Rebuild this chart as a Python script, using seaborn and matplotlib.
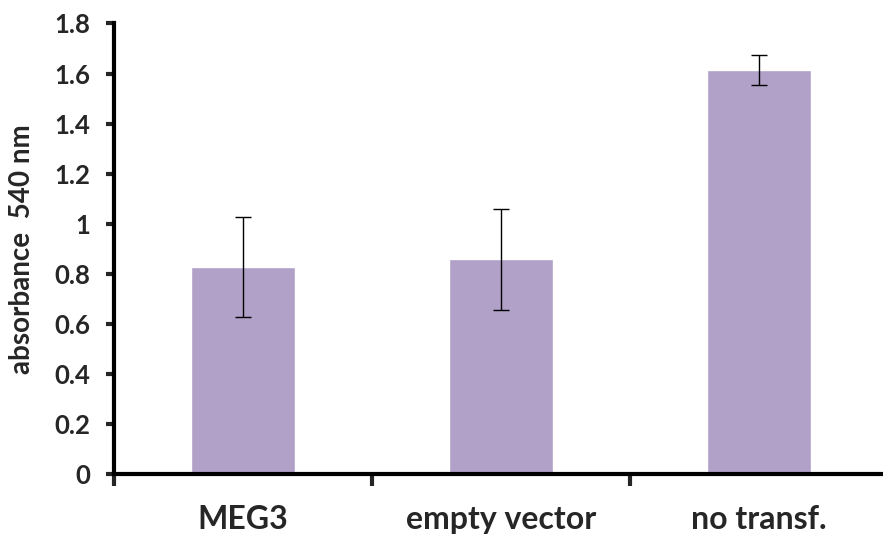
import matplotlib
matplotlib.use("Agg")
import matplotlib.pyplot as plt
import seaborn as sns
import pandas as pd
import numpy as np
from matplotlib.ticker import FixedLocator

categories = ["MEG3", "empty vector", "no transf."]
values = [0.826, 0.858, 1.614]
errors = [0.200, 0.202, 0.060]
yticks = [0, 0.2, 0.4, 0.6, 0.8, 1, 1.2, 1.4, 1.6, 1.8]
ytick_labels = ["0", "0.2", "0.4", "0.6", "0.8", "1", "1.2", "1.4", "1.6", "1.8"]

sns.set_style("white")
plt.rcParams['font.family'] = ['Lato', 'DejaVu Sans']

W, H = 883, 535
fig = plt.figure(figsize=(W / 100, H / 100), dpi=100)
ax = fig.add_axes([114 / W, 1 - 474 / H, (888 - 114) / W, (474 - 23.5) / H])

df = pd.DataFrame({"cat": categories, "val": values})
sns.barplot(data=df, x="cat", y="val", color="#B1A0C7", saturation=1,
            width=0.403, errorbar=None, ax=ax)
ax.errorbar(np.arange(len(categories)), values, yerr=errors, fmt="none",
            ecolor="black", elinewidth=1.0, capsize=6, capthick=1.0)

ax.set_xlim(-0.5, 2.5)
ax.set_ylim(0, 1.8)
ax.set_yticks(yticks)
ax.set_yticklabels(ytick_labels, fontsize=18.5, fontweight="bold")
ax.set_xticks(range(len(categories)))
ax.set_xticklabels(categories, fontsize=23, fontweight="bold")
ax.xaxis.set_minor_locator(FixedLocator([-0.5, 0.5, 1.5, 2.5]))
ax.tick_params(axis="x", which="major", length=0, pad=22)
ax.tick_params(axis="x", which="minor", length=8.6, width=3, direction="out", bottom=True)
ax.tick_params(axis="y", which="major", length=5.8, width=3, direction="out", left=True, pad=11)
ax.set_xlabel("")
ax.set_ylabel("absorbance  540 nm", fontsize=20, fontweight="bold")
ax.yaxis.set_label_coords(-0.102, 0.5)

for s in ["top", "right"]:
    ax.spines[s].set_visible(False)
for s in ["left", "bottom"]:
    ax.spines[s].set_linewidth(3)
    ax.spines[s].set_color("black")

fig.savefig("out.png", dpi=100)
